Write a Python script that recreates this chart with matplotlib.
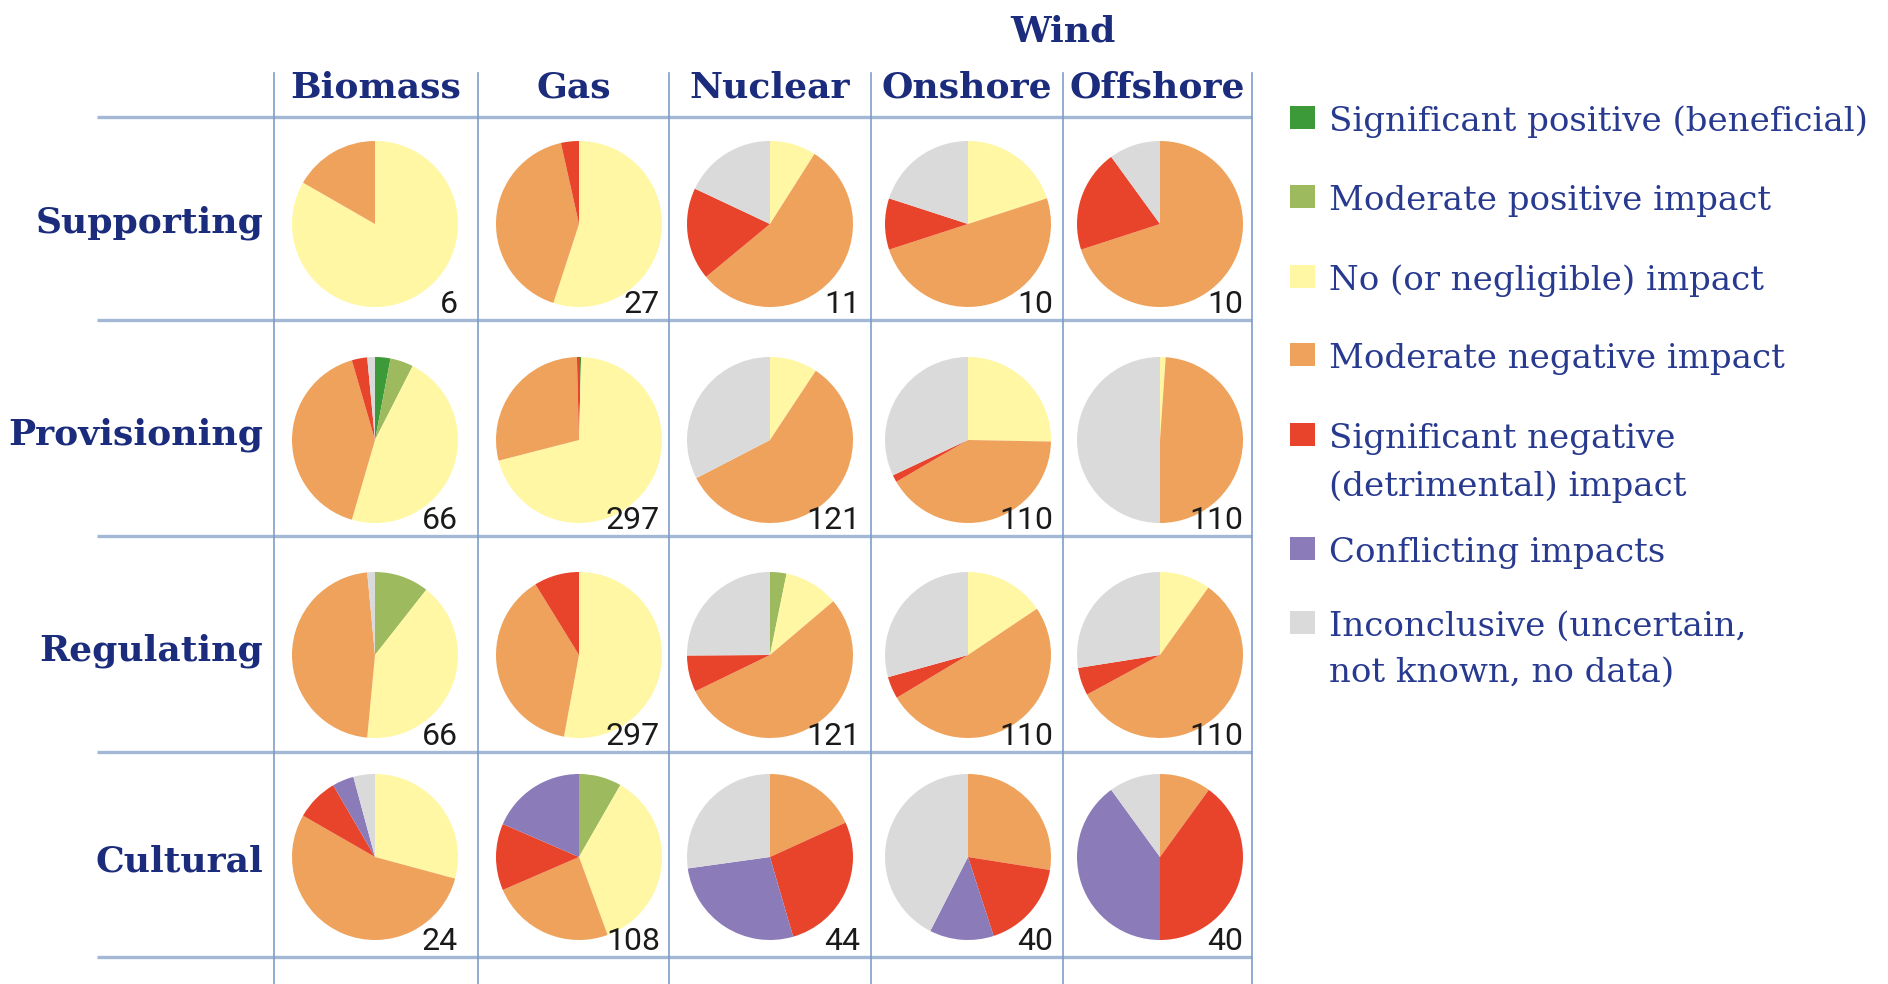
import matplotlib
matplotlib.use("Agg")
import matplotlib.pyplot as plt
from matplotlib.patches import Rectangle

# impact classes, in the order the pie slices run (clockwise from 12 o'clock)
categories = ["Significant positive (beneficial)", "Moderate positive impact",
              "No (or negligible) impact", "Moderate negative impact",
              "Significant negative\n(detrimental) impact", "Conflicting impacts",
              "Inconclusive (uncertain,\nnot known, no data)"]
colors = ["#3c9a38", "#9dba5e", "#fff7a3", "#efa25b", "#e8442b", "#8b7bb8", "#dadada"]

technologies = ["Biomass", "Gas", "Nuclear", "Onshore", "Offshore"]
services = ["Supporting", "Provisioning", "Regulating", "Cultural"]

# share of evidence (%) per technology, one list per service
supporting = [[0, 0, 83.3, 16.7, 0, 0, 0],
              [0, 0, 55.0, 41.5, 3.5, 0, 0],
              [0, 0, 9.0, 55.0, 18.0, 0, 18.0],
              [0, 0, 20.0, 50.0, 10.0, 0, 20.0],
              [0, 0, 0, 70.0, 20.0, 0, 10.0]]
provisioning = [[3.0, 4.5, 47.0, 41.0, 3.0, 0, 1.5],
                [0.4, 0, 70.6, 28.6, 0.4, 0, 0],
                [0, 0, 9.3, 58.1, 0, 0, 32.6],
                [0, 0, 25.3, 41.3, 1.4, 0, 32.0],
                [0, 0, 1.1, 48.9, 0, 0, 50.0]]
regulating = [[0, 10.6, 40.9, 47.0, 0, 0, 1.5],
              [0, 0, 52.9, 38.3, 8.8, 0, 0],
              [0, 3.2, 10.6, 54.0, 7.1, 0, 25.1],
              [0, 0, 15.6, 50.8, 4.3, 0, 29.3],
              [0, 0, 9.9, 57.2, 5.4, 0, 27.5]]
cultural = [[0, 0, 29.2, 54.1, 8.3, 4.2, 4.2],
            [0, 8.3, 36.1, 24.1, 13.0, 18.5, 0],
            [0, 0, 0, 18.2, 27.3, 27.3, 27.2],
            [0, 0, 0, 27.5, 17.5, 12.5, 42.5],
            [0, 0, 0, 10.0, 40.0, 40.0, 10.0]]

n_supporting = [6, 27, 11, 10, 10]
n_provisioning = [66, 297, 121, 110, 110]
n_regulating = [66, 297, 121, 110, 110]
n_cultural = [24, 108, 44, 40, 40]

shares = [supporting, provisioning, regulating, cultural]
counts = [n_supporting, n_provisioning, n_regulating, n_cultural]

W, H = 1888, 984
navy = "#1c2c7c"
legend_navy = "#283a8f"

fig = plt.figure(figsize=(W / 100, H / 100), dpi=100)
ax = fig.add_axes([0, 0, 1, 1])

def Y(y):
    # pixel rows counted from the top
    return H - y

# grid geometry (pixels)
col_lines = [274, 478, 669, 871, 1063, 1252]
row_lines = [117, 320, 536, 752, 957]
pie_x = [375, 579, 770, 968, 1160]
pie_y = [224, 440, 655, 857]
count_right = [458, 660, 860, 1053, 1243]
label_base = [233, 445, 660, 872]
radius = 83

for i, row in enumerate(shares):
    for j, vals in enumerate(row):
        keep = [k for k, v in enumerate(vals) if v > 0]
        ax.pie([vals[k] for k in keep], colors=[colors[k] for k in keep],
               startangle=90, counterclock=False, radius=radius,
               center=(pie_x[j], Y(pie_y[i])), frame=True,
               wedgeprops=dict(linewidth=0, antialiased=True))
        ax.text(count_right[j], Y(row_lines[i + 1] - 7), str(counts[i][j]),
                ha="right", va="baseline", fontsize=23, family="Roboto",
                color="#1a1a1a")

for y in row_lines:
    ax.plot([97, 1252], [Y(y), Y(y)], color="#a3b8d5", lw=2.4,
            solid_capstyle="butt", zorder=0)
for x in col_lines:
    ax.plot([x, x], [Y(73), Y(H)], color="#7f9dc9", lw=1.2, zorder=0)

head_font = dict(family="DejaVu Serif", fontweight="bold", fontsize=26, color=navy)
for j, name in enumerate(technologies):
    ax.text((col_lines[j] + col_lines[j + 1]) / 2, Y(97), name,
            ha="center", va="baseline", **head_font)
ax.text(1063, Y(42), "Wind", ha="center", va="baseline", **head_font)
for i, name in enumerate(services):
    ax.text(263, Y(label_base[i]), name, ha="right", va="baseline", **head_font)

# legend
legend_base = [[131], [210], [290], [368], [448, 496], [562], [636, 682]]
for k, label in enumerate(categories):
    b = legend_base[k]
    ax.add_patch(Rectangle((1290, Y(b[0] - 2)), 25, 23, color=colors[k], lw=0))
    for line, yb in zip(label.split("\n"), b):
        ax.text(1329, Y(yb), line, ha="left", va="baseline", fontsize=24.5,
                family="DejaVu Serif", color=legend_navy)

ax.set_xlim(0, W)
ax.set_ylim(0, H)
ax.set_aspect("auto")
ax.axis("off")
fig.savefig("out.png", dpi=100, facecolor="white")
